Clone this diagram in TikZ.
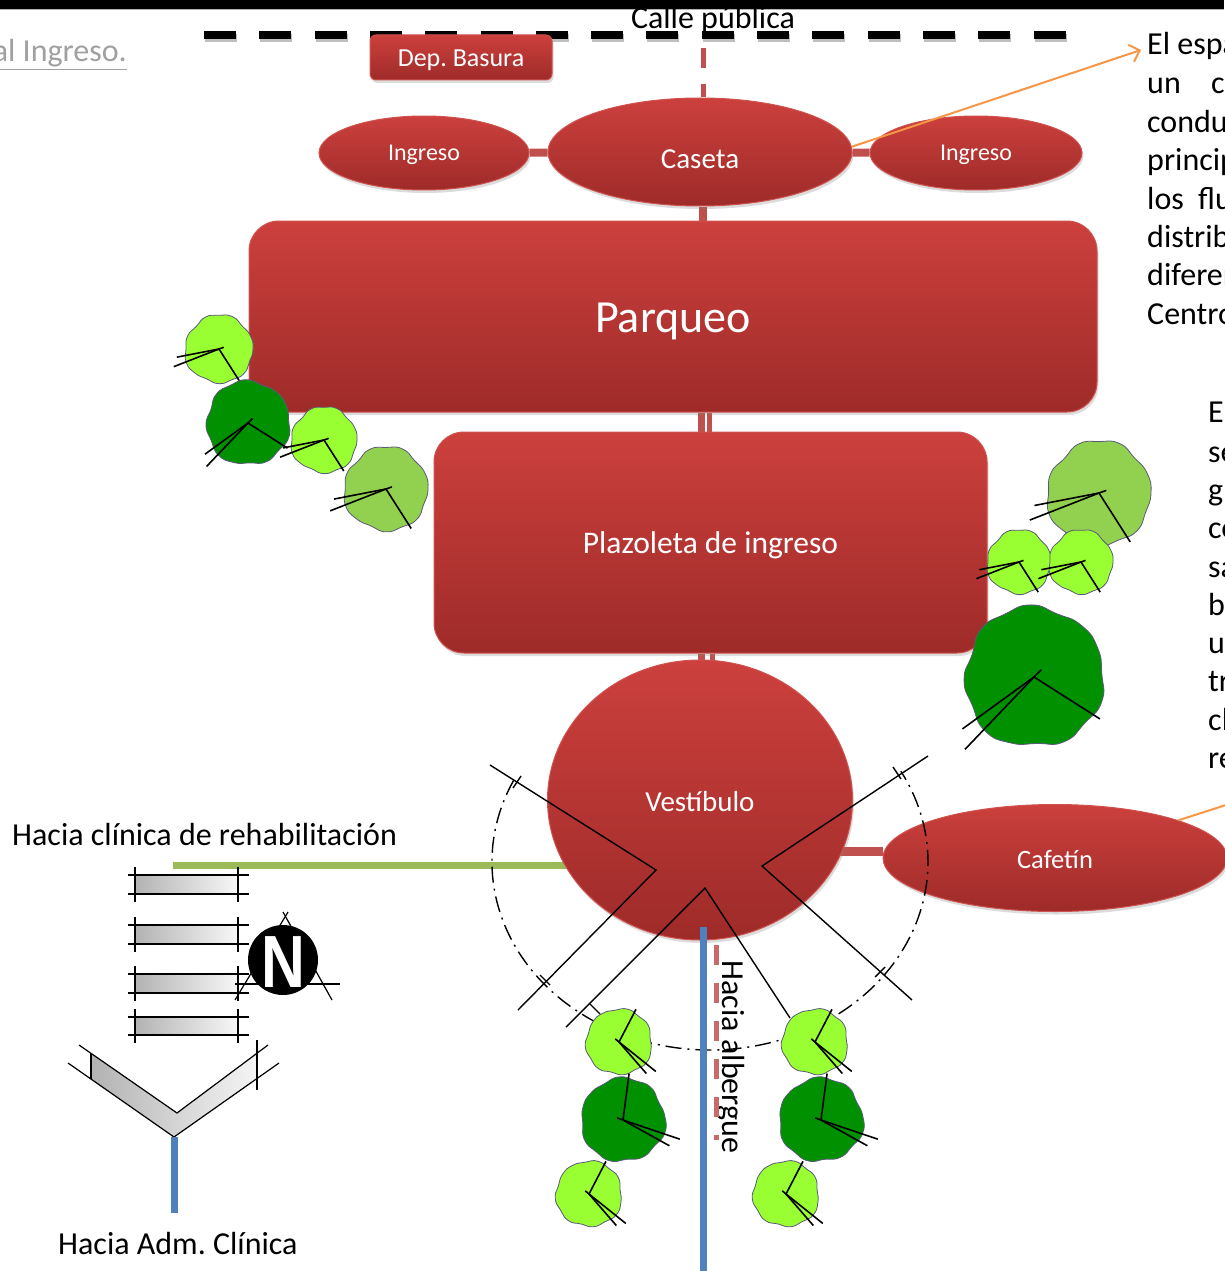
\documentclass[tikz,border=0pt]{standalone}
\usepackage{fontspec}
\setmainfont{Carlito}
\newfontfamily\northfont{Liberation Sans}
\usetikzlibrary{shapes.geometric,shadows,arrows.meta}
\pgfdeclarelayer{back}
\pgfsetlayers{back,main}

\definecolor{redtop}{HTML}{CC403D}
\definecolor{redbot}{HTML}{9E2B29}
\definecolor{rededge}{HTML}{D0524F}
\definecolor{linkred}{HTML}{C0504D}
\definecolor{lightgreen}{HTML}{99FF33}
\definecolor{midgreen}{HTML}{92D050}
\definecolor{darkgreen}{HTML}{009000}
\definecolor{pathgreen}{HTML}{9BBB59}
\definecolor{pathblue}{HTML}{4F81BD}
\definecolor{noteorange}{HTML}{F79646}
\definecolor{blobedge}{HTML}{5A5A78}
\definecolor{reftext}{HTML}{A0A0A0}

\tikzset{
  zone/.style={draw=rededge, line width=1pt, top color=redtop, bottom color=redbot, text=white,
    drop shadow={opacity=0.28, shadow xshift=1.5pt, shadow yshift=-3pt}},
  boxzone/.style={zone, rectangle, rounded corners=#1, inner sep=0pt},
  ovalzone/.style={zone, ellipse, inner sep=0pt},
  textdrop/.style={text height=#1, text depth=0pt},
  link/.style={draw=linkred, line width=8pt},
  greenpath/.style={draw=pathgreen, line width=7pt},
  bluepath/.style={draw=pathblue, line width=7pt},
  door/.style={draw=black, line width=1.4pt},
  swing/.style={draw=black, line width=1.4pt, dash pattern=on 16pt off 6pt on 2pt off 6pt},
  treeline/.style={draw=black, line width=1.6pt},
  treeedge/.style={draw=blobedge, line width=0.8pt},
  txt/.style={font=\fontsize{32}{38}\selectfont, inner sep=0pt},
  sidenote/.style={txt, anchor=base west},
  stairbox/.style={draw=black, line width=1.3pt, left color=gray!60, right color=gray!6},
  stairline/.style={draw=black, line width=1.2pt},
  pics/tree/.style={code={
    \draw[treeedge, fill=#1] plot[smooth cycle, tension=0.9] coordinates {
      (1.00,0) (0.896,0.371) (0.728,0.728) (0.375,0.905) (0,1.02) (-0.364,0.878)
      (-0.707,0.707) (-0.961,0.398) (-0.97,0) (-0.924,-0.383) (-0.665,-0.665)
      (-0.391,-0.942) (0,-0.99) (0.394,-0.952) (0.679,-0.679) (0.924,-0.383)};
    \draw[treeline] (0.6,0.94) -- (0,0) -- (-1.24,0.24);
    \draw[treeline] (0,0) -- (-1.33,0.52);
    \draw[treeline] (0,0) -- (0.14,-0.05);
  }}
}

\begin{document}
\frenchspacing
\begin{tikzpicture}[x=1pt,y=-1pt]
\useasboundingbox (0,0) rectangle (1224,1271);

% top band
\fill[black] (0,0) rectangle (1224,9);
\draw[gray!60, line width=0.8pt] (0,9.6) -- (1224,9.6);

% street edge
\draw[black, opacity=0.25, line width=8pt, dash pattern=on 32pt off 23.3pt] (205,38) -- (1068,38);
\draw[black, line width=8pt, dash pattern=on 32pt off 23.3pt] (204,35) -- (1067,35);

% zones
\node[boxzone=6pt, minimum width=182pt, minimum height=45pt, textdrop=17.6pt, font=\fontsize{26}{30}\selectfont] (basura) at (461,57.5) {Dep. Basura};
\node[ovalzone, minimum width=210pt, minimum height=74pt, textdrop=15.4pt, font=\fontsize{24}{28}\selectfont] (ingL) at (424,153) {Ingreso};
\node[ovalzone, minimum width=304pt, minimum height=108pt, textdrop=32pt, font=\fontsize{29}{34}\selectfont] (caseta) at (700,152) {Caseta};
\node[ovalzone, minimum width=212pt, minimum height=74pt, textdrop=15.4pt, font=\fontsize{24}{28}\selectfont] (ingR) at (976,153) {Ingreso};
\node[boxzone=30pt, minimum width=848pt, minimum height=191pt, textdrop=32.4pt, font=\fontsize{46}{52}\selectfont] (parqueo) at (673,316.5) {Parqueo};
\node[boxzone=30pt, minimum width=553pt, minimum height=221pt, textdrop=21.2pt, font=\fontsize{31.5}{36}\selectfont] (plaza) at (710.5,542.5) {Plazoleta de ingreso};
\node[ovalzone, minimum width=305pt, minimum height=280pt, textdrop=22.6pt, font=\fontsize{29}{34}\selectfont] (vest) at (700,800) {Vestíbulo};
\node[ovalzone, minimum width=344pt, minimum height=107pt, textdrop=21pt, font=\fontsize{26.5}{30}\selectfont] (cafe) at (1055,858) {Cafetín};

% connectors behind the zones
\coordinate (gate) at (703,48);
\coordinate (spine) at (703,0);
\coordinate (spineA) at (701,0);
\coordinate (spineB) at (709,0);
\coordinate (rehab) at (173,865);
\begin{pgfonlayer}{back}
  \draw[link] (ingL) -- (caseta) -- (ingR);
  \draw[link] (spine |- caseta.south) -- (spine |- parqueo.north);
  \draw[link, line width=7pt] (spineA |- parqueo.south) -- (spineA |- plaza.north);
  \draw[link, line width=5pt] (spineB |- parqueo.south) -- (spineB |- plaza.north);
  \draw[link, line width=7pt] (spineA |- plaza.south) -- (spineA |- vest.north);
  \draw[link, line width=5pt] ([xshift=3pt]spineB |- plaza.south) -- ([xshift=3pt]spineB |- vest.north);
  \draw[greenpath] (rehab) -- (rehab -| vest.center);
  \draw[link, line width=9pt] ([yshift=7pt]cafe.west) -- ([yshift=7pt]cafe.west -| vest.center);
\end{pgfonlayer}
\draw[linkred, line width=5pt, dash pattern=on 20pt off 16pt] (gate) -- (gate |- caseta.north);

% notes pointers
\coordinate (notetip) at (1141,50);
\coordinate (cafenote) at (1226,805);
\draw[noteorange, line width=2pt, -{Straight Barb[length=9pt,width=18pt]}] (caseta.2) -- (notetip);
\draw[noteorange, line width=2pt] (cafe.17) -- (cafenote);

% door swings around the lobby
\draw[swing] (710,862) ++(205.7:218 and 188) arc[start angle=205.7, end angle=-28.9, x radius=218, y radius=188];
\draw[door] (490,765) -- (656,870) -- (518,1010);
\draw[door] (566,1027) -- (705,888) -- (790,1018);
\draw[door] (928,756) -- (762,866) -- (912,1000);
\draw[door] (513,788) -- (521,776);
\draw[door] (540,975) -- (550,985);
\draw[door] (893,767) -- (901,779);
\draw[door] (885,967) -- (875,977);
\draw[door] (590,1004) -- (600,1014);

% path to the shelter
\coordinate (bluetop) at (703,927);
\coordinate (albergue) at (703,1271);
\draw[bluepath] (bluetop) -- (albergue);
\coordinate (redA) at (716,945);
\coordinate (redB) at (716,1140);
\node[txt, rotate=-90, anchor=base] (alberguetxt) at (722,1057) {Hacia albergue};
\draw[linkred!85, line width=5pt, dash pattern=on 20pt off 18pt] (redA) -- (redB);

% trees
\pic[scale=34] at (219,349) {tree=lightgreen};
\pic[scale=42, rotate=25] at (248,423) {tree=darkgreen};
\pic[scale=33] at (324,440) {tree=lightgreen};
\pic[scale=42] at (386,489) {tree=midgreen};
\pic[scale=52] at (1099,493) {tree=midgreen};
\pic[scale=32] at (1019,562) {tree=lightgreen};
\pic[scale=32] at (1081,562) {tree=lightgreen};
\pic[scale=70, rotate=25] at (1034,677) {tree=darkgreen};
\pic[scale=33, rotate=120] at (619,1042) {tree=lightgreen};
\pic[scale=42, rotate=140] at (623,1120) {tree=darkgreen};
\pic[scale=33, rotate=120] at (589,1194) {tree=lightgreen};
\pic[scale=33, rotate=120] at (815,1042) {tree=lightgreen};
\pic[scale=42, rotate=140] at (821,1120) {tree=darkgreen};
\pic[scale=33, rotate=120] at (786,1194) {tree=lightgreen};

% stairs
\foreach \y/\h in {875/19, 925/19, 974/19, 1017/18} {
  \draw[stairbox] (135,\y) rectangle (238,\y+\h);
  \draw[stairline] (128,\y) -- (249,\y);
  \draw[stairline] (128,\y+\h) -- (249,\y+\h);
  \draw[stairline] (135,\y-8) -- (135,\y+\h+8);
  \draw[stairline] (238,\y-8) -- (238,\y+\h+8);
}
\fill[left color=gray!60, right color=gray!8] (91,1053) -- (177,1113) -- (257,1053) -- (257,1078) -- (174,1137) -- (91,1079) -- cycle;
\draw[stairline] (79,1045) -- (177,1113) -- (268,1045);
\draw[stairline] (68,1063) -- (174,1137) -- (279,1063);
\draw[stairline] (91,1053) -- (91,1079);
\draw[stairline] (257,1040) -- (257,1090);
\coordinate (chevtip) at (174,1137);
\coordinate (adm) at (174,1213);
\draw[bluepath] (chevtip) -- (adm);

% north arrow
\draw[stairline] (235,1000) -- (288,912);
\draw[stairline] (283,912) -- (332,1000);
\draw[stairline] (235,984) -- (340,984);
\node[circle, fill=black, minimum size=70pt, inner sep=0pt] (north) at (283,960) {};
\node[text=white, font=\northfont\bfseries\fontsize{74}{74}\selectfont, xscale=0.82, inner sep=0pt] (nletter) at (283,962) {N};

% labels
\node[txt, anchor=base] (calle) at (713,29) {Calle pública};
\node[txt, anchor=base east, text=reftext] (ingresoref) at (127,62) {\underline{al Ingreso.}};
\node[txt, anchor=base west] (rehabtxt) at (12,845) {Hacia clínica de rehabilitación};
\node[txt, anchor=base west] (admtxt) at (58,1254) {Hacia Adm. Clínica};

% side notes
\node[sidenote] (n1) at (1147,55) {El espa};
\node[sidenote] (n2) at (1147,94) {un};
\node[sidenote] (n2b) at (1211,94) {c};
\node[sidenote] (n3) at (1147,132) {condu};
\node[sidenote] (n4) at (1147,170) {princip};
\node[sidenote] (n5) at (1147,209) {los};
\node[sidenote] (n5b) at (1198,209) {flu};
\node[sidenote] (n6) at (1147,247) {distrib};
\node[sidenote] (n7) at (1147,285) {diferen};
\node[sidenote] (n8) at (1147,324) {Centro};

\node[sidenote] (m1) at (1208,422) {E};
\node[sidenote] (m2) at (1208,462) {se};
\node[sidenote] (m3) at (1208,500) {gu};
\node[sidenote] (m4) at (1208,538) {co};
\node[sidenote] (m5) at (1208,577) {sa};
\node[sidenote] (m6) at (1208,615) {b};
\node[sidenote] (m7) at (1208,653) {u};
\node[sidenote] (m8) at (1208,691) {tr};
\node[sidenote] (m9) at (1208,730) {cl};
\node[sidenote] (m10) at (1208,768) {re};
\end{tikzpicture}
\end{document}
